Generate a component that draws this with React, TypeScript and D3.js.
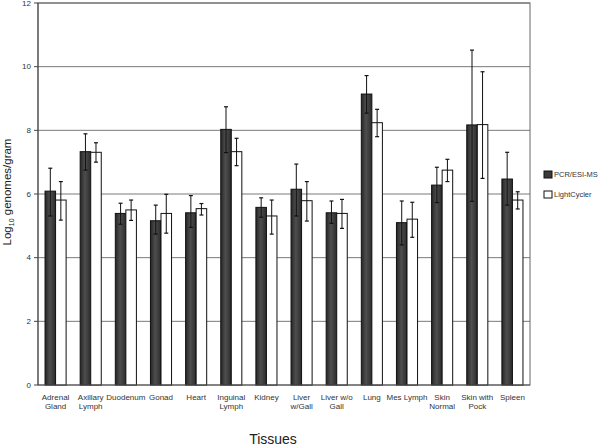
import React from "react";
import * as d3 from "d3";

const categories = [
  "Adrenal\nGland", "Axillary\nLymph", "Duodenum", "Gonad", "Heart", "Inguinal\nLymph", "Kidney",
  "Liver\nw/Gall", "Liver w/o\nGall", "Lung", "Mes Lymph", "Skin\nNormal", "Skin with\nPock", "Spleen",
];
const seriesNames = ["PCR/ESI-MS", "LightCycler"];
const pcrMean = [6.09, 7.33, 5.39, 5.16, 5.41, 8.03, 5.58, 6.15, 5.41, 9.14, 5.10, 6.28, 8.17, 6.47];
const pcrHigh = [6.81, 7.89, 5.71, 5.65, 5.95, 8.74, 5.88, 6.94, 5.78, 9.72, 5.78, 6.84, 10.52, 7.31];
const pcrLow = [5.31, 6.75, 5.05, 4.74, 4.95, 7.30, 5.27, 5.31, 5.08, 8.54, 4.40, 5.73, 5.77, 5.65];
const lcMean = [5.81, 7.31, 5.50, 5.39, 5.54, 7.33, 5.31, 5.79, 5.39, 8.24, 5.21, 6.75, 8.18, 5.81];
const lcHigh = [6.39, 7.61, 5.81, 5.99, 5.70, 7.75, 5.81, 6.39, 5.83, 8.66, 5.74, 7.09, 9.84, 6.07];
const lcLow = [5.18, 7.00, 5.17, 4.77, 5.34, 6.89, 4.74, 5.15, 4.92, 7.80, 4.64, 6.39, 6.49, 5.53];
const yTicks = [0, 2, 4, 6, 8, 10, 12];

const W = 598, H = 447;
const L = 38, R = 530, T = 3, B = 385;

export default function App() {
  const x = d3.scaleBand<number>().domain(d3.range(categories.length)).range([L, R]).paddingInner(0.4).paddingOuter(0.2);
  const xs = d3.scaleBand<number>().domain([0, 1]).range([0, x.bandwidth()]);
  const y = d3.scaleLinear().domain([0, 12]).range([B, T]);
  const series = [
    { mean: pcrMean, hi: pcrHigh, lo: pcrLow },
    { mean: lcMean, hi: lcHigh, lo: lcLow },
  ];
  const font = "Arial, 'Liberation Sans', sans-serif";
  return (
    <svg width={W} height={H} style={{ position: "absolute", left: 0, top: 0, background: "#fff" }} fontFamily={font}>
      <defs>
        <linearGradient id="dark" x1="0" x2="1" y1="0" y2="0">
          <stop offset="0" stopColor="#262626" />
          <stop offset="0.45" stopColor="#4e4e4e" />
          <stop offset="1" stopColor="#2c2c2c" />
        </linearGradient>
      </defs>
      {/* grid */}
      {yTicks.filter((t) => t > 0).map((t) => (
        <line key={t} x1={L} x2={R} y1={y(t)} y2={y(t)} stroke="#7a7a7a" strokeWidth={1} />
      ))}
      {/* frame */}
      <rect x={L} y={T} width={R - L} height={B - T} fill="none" stroke="#666" strokeWidth={1} />
      {/* y ticks */}
      {yTicks.map((t) => (
        <g key={t}>
          <line x1={L - 4} x2={L} y1={y(t)} y2={y(t)} stroke="#444" />
          <text x={L - 7} y={y(t)} dy="0.35em" textAnchor="end" fontSize={8} fill="#333">{t}</text>
        </g>
      ))}
      {/* bars */}
      {series.map((s, si) =>
        s.mean.map((v, i) => {
          const bx = (x(i) as number) + (xs(si) as number);
          const bw = xs.bandwidth();
          const cx = bx + bw / 2;
          return (
            <g key={`${si}-${i}`}>
              <rect x={bx} y={y(v)} width={bw} height={B - y(v)} fill={si === 0 ? "url(#dark)" : "#fff"} stroke="#111" strokeWidth={1} />
              <line x1={cx} x2={cx} y1={y(s.hi[i])} y2={y(s.lo[i])} stroke="#111" strokeWidth={1} />
              <line x1={cx - 2} x2={cx + 2} y1={y(s.hi[i])} y2={y(s.hi[i])} stroke="#111" strokeWidth={1.2} />
              <line x1={cx - 2} x2={cx + 2} y1={y(s.lo[i])} y2={y(s.lo[i])} stroke="#111" strokeWidth={1.2} />
            </g>
          );
        })
      )}
      {/* axis lines */}
      <line x1={L} x2={R} y1={B} y2={B} stroke="#555" />
      <line x1={L} x2={L} y1={T} y2={B} stroke="#444" />
      {/* x labels */}
      {categories.map((c, i) => {
        const cx = (x(i) as number) + x.bandwidth() / 2;
        return (
          <text key={i} x={cx} y={400} textAnchor="middle" fontSize={8} fill="#333">
            {c.split("\n").map((ln, k) => (
              <tspan key={k} x={cx} dy={k === 0 ? 0 : 9}>{ln}</tspan>
            ))}
          </text>
        );
      })}
      <text x={273} y={444} textAnchor="middle" fontSize={14} fill="#222">Tissues</text>
      <text transform={`translate(11,192) rotate(-90)`} textAnchor="middle" fontSize={11.5} fill="#222">
        Log<tspan fontSize={7} dy={3}>10</tspan><tspan dy={-3}> genomes/gram</tspan>
      </text>
      {/* legend */}
      {seriesNames.map((n, i) => (
        <g key={n} transform={`translate(544,${171 + i * 20})`}>
          <rect x={0} y={0} width={8} height={7} fill={i === 0 ? "#3a3a3a" : "#fff"} stroke="#111" />
          <text x={10} y={3.5} dy="0.35em" fontSize={7.5} fill="#333">{n}</text>
        </g>
      ))}
    </svg>
  );
}
